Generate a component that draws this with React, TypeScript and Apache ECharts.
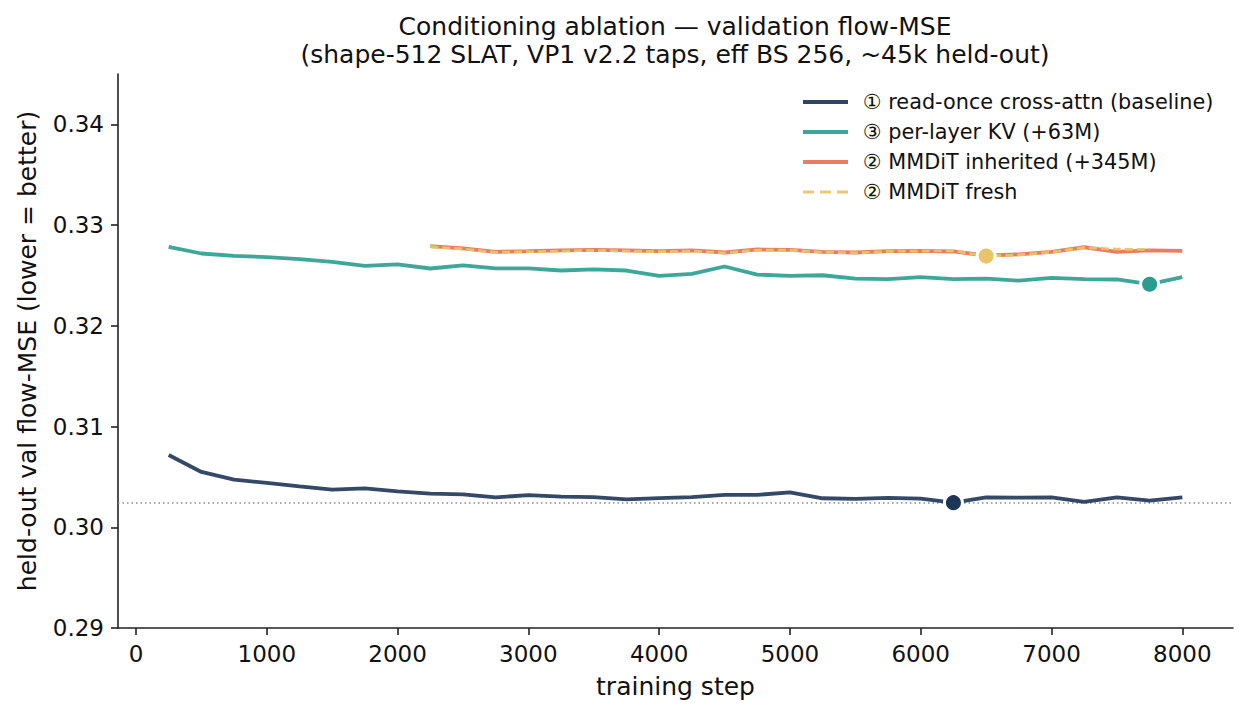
import React, { useEffect, useRef } from "react";
import * as echarts from "echarts";

const steps = [250, 500, 750, 1000, 1250, 1500, 1750, 2000, 2250, 2500, 2750, 3000, 3250, 3500, 3750, 4000,
  4250, 4500, 4750, 5000, 5250, 5500, 5750, 6000, 6250, 6500, 6750, 7000, 7250, 7500, 7750, 8000];

const baselineVals = [0.30718, 0.30549, 0.30473, 0.30440, 0.30406, 0.30373, 0.30386, 0.30357, 0.30334, 0.30327,
  0.30297, 0.30320, 0.30304, 0.30300, 0.30277, 0.30290, 0.30299, 0.30322, 0.30322, 0.30347, 0.30288, 0.30281,
  0.30292, 0.30285, 0.30244, 0.30297, 0.30295, 0.30297, 0.30251, 0.30297, 0.30264, 0.30297];

const perLayerVals = [0.32784, 0.32718, 0.32695, 0.32682, 0.32662, 0.32635, 0.32595, 0.32610, 0.32569, 0.32600,
  0.32570, 0.32570, 0.32549, 0.32560, 0.32549, 0.32496, 0.32516, 0.32589, 0.32509, 0.32496, 0.32502, 0.32469,
  0.32463, 0.32483, 0.32463, 0.32469, 0.32449, 0.32476, 0.32463, 0.32460, 0.32413, 0.32483];

const inheritedSteps = [2250, 2500, 2750, 3000, 3250, 3500, 3750, 4000, 4250, 4500, 4750, 5000, 5250, 5500,
  5750, 6000, 6250, 6500, 6750, 7000, 7250, 7500, 7750, 8000];
const inheritedVals = [0.32791, 0.32768, 0.32735, 0.32741, 0.32748, 0.32754, 0.32748, 0.32741, 0.32748, 0.32728,
  0.32758, 0.32754, 0.32735, 0.32728, 0.32741, 0.32745, 0.32738, 0.32698, 0.32709, 0.32735, 0.32780, 0.32735,
  0.32748, 0.32745];

const freshSteps = [2250, 2500, 2750, 3000, 3250, 3500, 3750, 4000, 4250, 4500, 4750, 5000, 5250, 5500,
  5750, 6000, 6250, 6500, 6750, 7000, 7250, 7500, 7750];
const freshVals = [0.32785, 0.32762, 0.32730, 0.32736, 0.32742, 0.32748, 0.32743, 0.32737, 0.32742, 0.32724,
  0.32752, 0.32750, 0.32731, 0.32724, 0.32740, 0.32742, 0.32745, 0.32692, 0.32705, 0.32732, 0.32776, 0.32761,
  0.32758];

const xTicks = [0, 1000, 2000, 3000, 4000, 5000, 6000, 7000, 8000];
const yTicks = [0.29, 0.30, 0.31, 0.32, 0.33, 0.34];

const names = [
  "① read-once cross-attn (baseline)",
  "③ per-layer KV (+63M)",
  "② MMDiT inherited (+345M)",
  "② MMDiT fresh",
];

const FONT = "DejaVu Sans";
const SOLID_ICON = "path://M0,0h45v4h-45z";
const DASH_ICON = "path://M0,0h11v3h-11zM17,0h11v3h-11zM34,0h11v3h-11z";

function pairs(xs: number[], ys: number[]) {
  return xs.map((x, i) => [x, ys[i]]);
}
function minPoint(xs: number[], ys: number[]) {
  let k = 0;
  ys.forEach((v, i) => { if (v < ys[k]) k = i; });
  return [xs[k], ys[k]];
}

export default function App() {
  const ref = useRef<HTMLDivElement>(null);
  useEffect(() => {
    document.body.style.margin = "0";
    const chart = echarts.init(ref.current!, null, { renderer: "svg" });
    const baseMin = minPoint(steps, baselineVals);
    const kvMin = minPoint(steps, perLayerVals);
    const freshMin = minPoint(freshSteps, freshVals);
    const axisColor = "#222";
    const markerStyle = (c: string) => ({ color: c, borderColor: "#fff", borderWidth: 3, opacity: 1 });
    chart.setOption({
      animation: false,
      textStyle: { fontFamily: FONT },
      graphic: [
        {
          type: "text",
          x: 675,
          y: 12,
          style: {
            text: "Conditioning ablation — validation flow-MSE\n(shape-512 SLAT, VP1 v2.2 taps, eff BS 256, ~45k held-out)",
            fontFamily: FONT,
            fontSize: 25,
            lineHeight: 28,
            fill: "#111",
            textAlign: "center",
            textVerticalAlign: "top",
          },
        },
      ],
      grid: { left: 118, right: 15, top: 74, bottom: 86 },
      legend: {
        orient: "vertical",
        left: 803,
        top: 87,
        padding: 0,
        itemGap: 0,
        itemWidth: 45,
        itemHeight: 4,
        data: [
          { name: names[0], icon: SOLID_ICON },
          { name: names[1], icon: SOLID_ICON },
          { name: names[2], icon: SOLID_ICON },
          { name: names[3], icon: DASH_ICON },
        ],
        textStyle: { fontFamily: FONT, fontSize: 20.8, color: "#111", lineHeight: 30, padding: [0, 0, 0, 10] },
      },
      xAxis: {
        type: "value",
        min: -137.5,
        max: 8387.5,
        name: "training step",
        nameLocation: "middle",
        nameGap: 46,
        nameTextStyle: { fontFamily: FONT, fontSize: 25, color: "#111" },
        splitLine: { show: false },
        axisLine: { onZero: false, lineStyle: { color: axisColor, width: 1.6 } },
        axisTick: { customValues: xTicks, length: 7, lineStyle: { color: axisColor, width: 1.6 } },
        axisLabel: {
          customValues: xTicks,
          margin: 14,
          fontFamily: FONT,
          fontSize: 23,
          color: "#111",
          formatter: (v: number) => String(Math.round(v)),
        },
      },
      yAxis: {
        type: "value",
        min: 0.29,
        max: 0.345,
        name: "held-out val flow-MSE (lower = better)",
        nameLocation: "middle",
        nameGap: 78,
        nameTextStyle: { fontFamily: FONT, fontSize: 25, color: "#111" },
        splitLine: { show: false },
        axisLine: { show: true, onZero: false, lineStyle: { color: axisColor, width: 1.6 } },
        axisTick: { show: true, customValues: yTicks, length: 7, lineStyle: { color: axisColor, width: 1.6 } },
        axisLabel: {
          customValues: yTicks,
          margin: 14,
          fontFamily: FONT,
          fontSize: 23,
          color: "#111",
          formatter: (v: number) => v.toFixed(2),
        },
      },
      series: [
        {
          name: names[0],
          type: "line",
          data: pairs(steps, baselineVals),
          symbol: "none",
          color: "#2f4563",
          lineStyle: { color: "#1d3557", width: 3.8, opacity: 0.9 },
          z: 3,
          markLine: {
            silent: true,
            precision: 6,
            symbol: ["none", "none"],
            label: { show: false },
            lineStyle: { color: "#8c8c8c", width: 1.5, type: [1.5, 3], opacity: 1 },
            data: [{ yAxis: baseMin[1] }],
            z: 1,
          },
        },
        {
          name: names[1],
          type: "line",
          data: pairs(steps, perLayerVals),
          symbol: "none",
          color: "#3da697",
          lineStyle: { color: "#2a9d8f", width: 3.8, opacity: 0.9 },
          z: 3,
        },
        {
          name: names[2],
          type: "line",
          data: pairs(inheritedSteps, inheritedVals),
          symbol: "none",
          color: "#e97d62",
          lineStyle: { color: "#e76f51", width: 3.8, opacity: 0.9 },
          z: 3,
        },
        {
          name: names[3],
          type: "line",
          data: pairs(freshSteps, freshVals),
          symbol: "none",
          color: "#ebc877",
          lineStyle: { color: "#e9c46a", width: 2.8, type: [8, 4], opacity: 0.95 },
          z: 4,
        },
        {
          type: "scatter",
          data: [baseMin],
          symbol: "circle",
          symbolSize: 18,
          itemStyle: markerStyle("#1d3557"),
          z: 5,
        },
        {
          type: "scatter",
          data: [kvMin],
          symbol: "circle",
          symbolSize: 18,
          itemStyle: markerStyle("#2a9d8f"),
          z: 5,
        },
        {
          type: "scatter",
          data: [freshMin],
          symbol: "circle",
          symbolSize: 18,
          itemStyle: markerStyle("#e9c46a"),
          z: 5,
        },
      ],
    });
    return () => chart.dispose();
  }, []);
  return <div ref={ref} style={{ position: "absolute", left: 0, top: 0, width: 1248, height: 714 }} />;
}
